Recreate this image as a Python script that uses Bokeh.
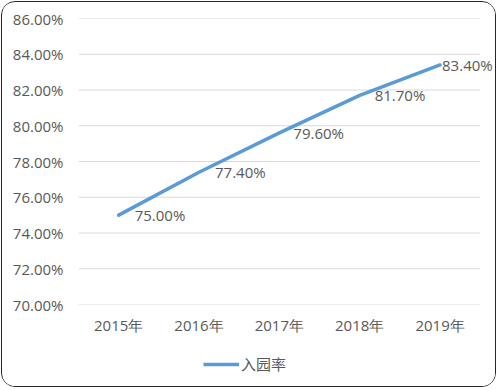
from bokeh.plotting import figure
from bokeh.layouts import column
from bokeh.models import (ColumnDataSource, PrintfTickFormatter, Legend, LegendItem, FixedTicker,
                          Range1d, LabelSet)
from bokeh.embed import file_html
from bokeh.resources import INLINE
from bokeh.core.properties import value

years = ["2015年", "2016年", "2017年", "2018年", "2019年"]
rates = [75.00, 77.40, 79.60, 81.70, 83.40]
labels = ["75.00%", "77.40%", "79.60%", "81.70%", "83.40%"]
y_ticks = [70, 72, 74, 76, 78, 80, 82, 84, 86]
series_name = "入园率"

# styling: horizontal offset (px) of each data label
label_dx = [16, 16, 14, 15, 2]

xs = list(range(len(years)))
src = ColumnDataSource(dict(x=xs, y=rates, t=labels, dx=label_dx))

FONT = "Open Sans"
GRAY = "#595959"
FS = "15px"
BLUE = "#5B9BD5"
GRID = "#D9D9D9"

p = figure(width=493, height=340, x_range=Range1d(-0.5, 4.69), y_range=Range1d(70, 86),
           output_backend="svg", toolbar_location=None,
           min_border_left=76, min_border_right=0, min_border_top=16, min_border_bottom=38)
p.outline_line_color = None
p.background_fill_color = "white"
p.border_fill_color = "white"
p.xgrid.grid_line_color = None
p.ygrid.grid_line_color = None

# horizontal gridlines over the category span
n = len(years)
p.segment(x0=[-0.5] * len(y_ticks), x1=[n - 0.5] * len(y_ticks), y0=y_ticks, y1=y_ticks,
          line_color=GRID, line_width=1)

r = p.line("x", "y", source=src, line_color=BLUE, line_width=3.5, line_cap="round", line_join="round")
ls = LabelSet(x="x", y="y", text="t", source=src, x_offset="dx", text_align="left", text_baseline="middle",
              text_font=value(FONT), text_font_size=value(FS), text_color=GRAY)
p.add_layout(ls)

p.yaxis.ticker = FixedTicker(ticks=y_ticks)
p.yaxis.formatter = PrintfTickFormatter(format="%.2f%%")
p.yaxis.axis_line_color = None
p.yaxis.major_tick_line_color = None
p.yaxis.minor_tick_line_color = None
p.yaxis.major_tick_out = 0
p.yaxis.major_tick_in = 0
p.yaxis.major_label_standoff = 15
p.yaxis.major_label_text_font = FONT
p.yaxis.major_label_text_font_size = FS
p.yaxis.major_label_text_color = GRAY

p.xaxis.ticker = FixedTicker(ticks=xs)
p.xaxis.major_label_overrides = {i: y for i, y in zip(xs, years)}
p.xaxis.axis_line_color = None
p.xaxis.major_tick_line_color = None
p.xaxis.minor_tick_line_color = None
p.xaxis.major_tick_out = 0
p.xaxis.major_tick_in = 0
p.xaxis.major_label_standoff = 10
p.xaxis.major_label_text_font = FONT
p.xaxis.major_label_text_font_size = FS
p.xaxis.major_label_text_color = GRAY

# legend panel (its series line lies outside the panel's view; only the legend entry shows)
lg = figure(width=493, height=44, x_range=Range1d(0, 1), y_range=Range1d(0, 1),
            output_backend="svg", toolbar_location=None,
            min_border_left=0, min_border_right=0, min_border_top=0, min_border_bottom=0)
lg.axis.visible = False
lg.grid.visible = False
lg.outline_line_color = None
lg.border_fill_color = "white"
lr = lg.line("x", "y", source=src, line_color=BLUE, line_width=3.5)
legend = Legend(items=[LegendItem(label=series_name, renderers=[lr])], location=(125, 12),
                orientation="horizontal", border_line_color=None, background_fill_alpha=0,
                label_text_font="Noto Sans CJK SC", label_text_font_size=FS, label_text_color=GRAY,
                glyph_width=36, glyph_height=20, label_height=20, label_standoff=2, padding=0, margin=0)
lg.add_layout(legend)

layout = column(p, lg, spacing=0)
layout.styles = {"border": "1px solid #262626", "border-radius": "14px", "margin": "1px",
                 "overflow": "hidden", "background": "white"}

open("out.html", "w").write(file_html(layout, INLINE))
